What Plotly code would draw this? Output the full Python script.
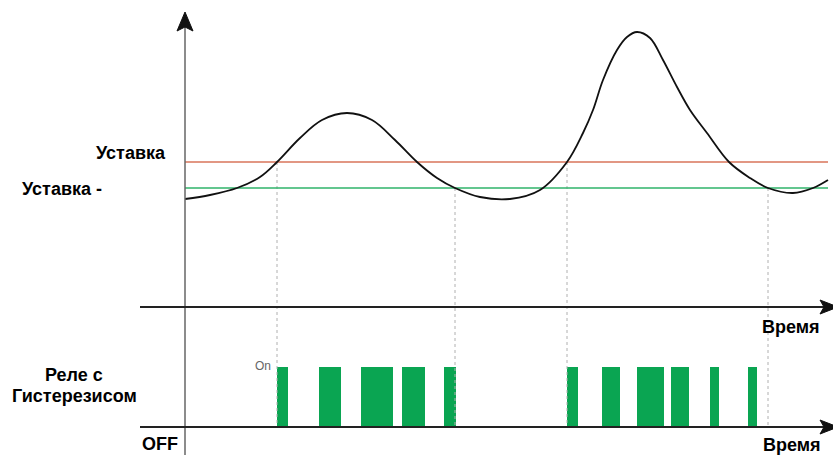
import plotly.graph_objects as go

# ---- data (time axis units ~ px, level in y-up units) ----
curve_t = [185, 210, 237, 260, 277, 300, 322, 347, 372, 395, 417, 437, 455, 480, 510,
           540, 567, 583, 593, 603, 617, 627, 637, 650, 663, 677, 690, 707, 729, 750,
           768, 793, 813, 828]
curve_pix = [199, 195, 188, 177, 162, 138, 120, 113, 120, 140, 162, 178, 188, 197, 199,
             190, 162, 133, 110, 80, 50, 37, 32, 38, 60, 87, 110, 133, 162, 178,
             188, 193, 188, 180]
curve_v = [455 - p for p in curve_pix]

setpoint_hi = 293
setpoint_lo = 267
t_start, t_end = 185, 828

switch_t = [277, 455, 567, 768]
switch_v = [setpoint_hi, setpoint_lo, setpoint_hi, setpoint_lo]

relay_on_start = [277, 319, 361, 402, 444, 567, 602, 637, 671, 710, 748]
relay_on_end = [288, 341, 393, 425, 456, 578, 620, 664, 689, 719, 757]
relay_off = 28
relay_on = 88

axis_top = 148
axis_bottom = 28

FONT = "Liberation Sans"

fig = go.Figure()

# dotted switching lines
for t, v in zip(switch_t, switch_v):
    fig.add_trace(go.Scatter(x=[t, t], y=[v, relay_off], mode="lines",
                             line=dict(color="#b0b0b0", width=1, dash="dot"),
                             hoverinfo="skip", showlegend=False))

# setpoint lines
fig.add_trace(go.Scatter(x=[t_start, t_end], y=[setpoint_hi, setpoint_hi], mode="lines",
                         line=dict(color="#d9745a", width=1.3), showlegend=False))
fig.add_trace(go.Scatter(x=[t_start, t_end], y=[setpoint_lo, setpoint_lo], mode="lines",
                         line=dict(color="#2fb36a", width=1.6), showlegend=False))

# temperature curve
fig.add_trace(go.Scatter(x=curve_t, y=curve_v, mode="lines",
                         line=dict(color="#111111", width=1.8, shape="spline", smoothing=1.0),
                         showlegend=False))

# relay bars
fig.add_trace(go.Bar(
    x=[(s + e) / 2 for s, e in zip(relay_on_start, relay_on_end)],
    width=[e - s for s, e in zip(relay_on_start, relay_on_end)],
    y=[relay_on - relay_off] * len(relay_on_start),
    base=[relay_off] * len(relay_on_start),
    marker=dict(color="#0aa552", line=dict(width=0)),
    showlegend=False))

shapes = []
# vertical axis
shapes.append(dict(type="line", xref="x", yref="y", x0=185, x1=185, y0=0, y1=428,
                   line=dict(color="#666666", width=1.5)))
shapes.append(dict(type="path", xref="x", yref="y",
                   path="M 185 443 L 177 424 L 185 428 L 193 424 Z",
                   fillcolor="#111111", line=dict(color="#111111", width=1)))
# horizontal axes
for yy in [axis_top, axis_bottom]:
    shapes.append(dict(type="line", xref="x", yref="y", x0=140, x1=826, y0=yy, y1=yy,
                       line=dict(color="#222222", width=2)))
    shapes.append(dict(type="path", xref="x", yref="y",
                       path=f"M 838 {yy} L 820 {yy+7} L 824 {yy} L 820 {yy-7} Z",
                       fillcolor="#111111", line=dict(color="#111111", width=1)))

annotations = []
def txt(x, y, s, anchor="left", size=18, bold=True, color="#000000"):
    annotations.append(dict(x=x, y=y, xref="x", yref="y", text=f"<b>{s}</b>" if bold else s,
                            showarrow=False, xanchor=anchor, yanchor="middle",
                            font=dict(family=FONT, size=size, color=color)))

txt(168, 455 - 153, "Уставка", anchor="right")
txt(20, 455 - 189, "Уставка -", anchor="left")
txt(822, 455 - 327, "Время", anchor="right")
txt(823, 455 - 445, "Время", anchor="right")
txt(74, 455 - 375, "Реле с", anchor="center")
txt(74, 455 - 396, "Гистерезисом", anchor="center")
txt(180, 455 - 444, "OFF", anchor="right")
txt(273, 455 - 366, "On", anchor="right", size=12, bold=False, color="#666666")

fig.update_layout(
    width=833, height=455,
    margin=dict(l=0, r=0, t=0, b=0),
    paper_bgcolor="white", plot_bgcolor="white",
    xaxis=dict(range=[0, 833], visible=False, fixedrange=True),
    yaxis=dict(range=[0, 455], visible=False, fixedrange=True),
    shapes=shapes, annotations=annotations,
    bargap=0, showlegend=False,
)

fig.write_html("out.html", config={"displayModeBar": False},
               post_script="document.body.style.margin='0';document.body.style.overflow='hidden';")
